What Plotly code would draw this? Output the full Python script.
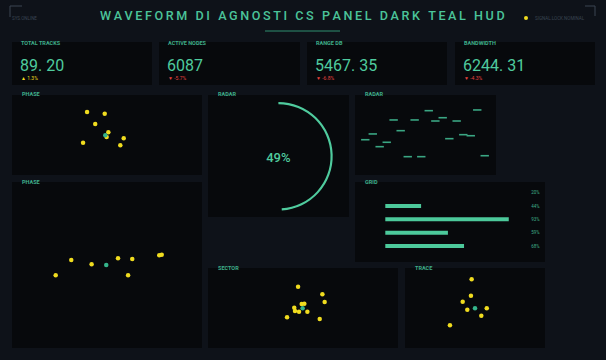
import plotly.graph_objects as go

W, H = 606, 360

# ---------------- data ----------------
TITLE = "WAVEFORM DI AGNOSTI CS PANEL DARK TEAL HUD"
header_left_tag = "SYS.ONLINE"
header_right_tag = "SIGNAL.LOCK.NOMINAL"

kpi_labels = ["TOTAL TRACKS", "ACTIVE NODES", "RANGE DB", "BANDWIDTH"]
kpi_values = ["89. 20", "6087", "5467. 35", "6244. 31"]
kpi_deltas = [1.3, -5.7, -6.8, -4.3]

panel_titles = ["PHASE", "RADAR", "RADAR", "PHASE", "GRID", "SECTOR", "TRACE"]

phase1_x = [39.5, 48.8, 43.8, 50.7, 49.8, 58.8, 37.4, 57.0]
phase1_y = [78.8, 76.6, 63.8, 53.4, 47.5, 45.9, 40.4, 37.1]
phase1_cx, phase1_cy = [49.1], [49.6]

radar_x = [52.3, 86.7, 27.4, 42.3, 57.0, 62.2, 72.1, 32.4, 12.6, 7.3, 22.5, 17.5, 66.9, 76.8, 82.1, 37.4, 47.0, 92.0]
radar_y = [80.4, 81.3, 68.8, 68.8, 67.5, 71.6, 67.5, 55.4, 51.3, 44.1, 40.9, 35.4, 45.4, 50.4, 49.1, 22.9, 22.9, 24.1]

phase2_x = [23.0, 31.2, 41.9, 55.8, 63.3, 61.1, 77.5, 78.8]
phase2_y = [43.8, 53.0, 50.4, 54.0, 53.6, 43.8, 55.8, 56.2]
phase2_cx, phase2_cy = [49.6], [50.0]

sector_x = [47.4, 60.2, 61.4, 49.3, 50.7, 45.4, 45.8, 47.9, 52.3, 41.6, 58.8]
sector_y = [76.6, 67.1, 57.5, 55.0, 55.4, 50.4, 46.3, 45.4, 45.4, 38.4, 36.3]
sector_cx, sector_cy = [49.8], [49.6]

trace_x = [47.6, 47.1, 41.2, 44.5, 58.4, 54.5, 32.1]
trace_y = [85.9, 65.4, 57.9, 47.9, 49.6, 40.4, 28.4]
trace_cx, trace_cy = [50.0], [49.6]

gauge_value = 49
grid_values = [20, 44, 93, 59, 68]

# ---------------- style ----------------
BG = "#0e1219"
PANEL = "#07090c"
TEAL = "#4fcb9e"
TEAL_DIM = "#3aa683"
LABEL = "#3fae8a"
YELLOW = "#f0dc1f"
RED = "#e5423f"
FONT = "Roboto"


def X(px):
    return px / W


def Y(py):
    return 1 - py / H


kpi_rects = [(12, 42, 152, 85), (159, 42, 300, 85), (307, 42, 447, 85), (455, 42, 595, 85)]
panel_rects = [
    (12, 95, 202, 175),    # phase 1
    (208, 95, 349, 217),   # gauge
    (355, 95, 496, 175),   # radar
    (12, 182, 202, 348),   # phase 2
    (355, 182, 545, 262),  # grid
    (208, 268, 398, 348),  # sector
    (405, 268, 545, 348),  # trace
]

fig = go.Figure()
shapes = []
annotations = []

for r in kpi_rects + panel_rects:
    shapes.append(dict(type="rect", xref="paper", yref="paper", x0=X(r[0]), x1=X(r[2]),
                       y0=Y(r[3]), y1=Y(r[1]), fillcolor=PANEL, line=dict(width=0), layer="below"))

# header decorations
dec = "#3a4552"
shapes += [
    dict(type="line", xref="paper", yref="paper", x0=X(10), x1=X(22), y0=Y(6), y1=Y(6), line=dict(color=dec, width=1)),
    dict(type="line", xref="paper", yref="paper", x0=X(10), x1=X(10), y0=Y(6), y1=Y(17), line=dict(color=dec, width=1)),
    dict(type="line", xref="paper", yref="paper", x0=X(585), x1=X(595), y0=Y(6), y1=Y(6), line=dict(color=dec, width=1)),
    dict(type="line", xref="paper", yref="paper", x0=X(595), x1=X(595), y0=Y(6), y1=Y(16), line=dict(color=dec, width=1)),
    dict(type="line", xref="paper", yref="paper", x0=X(265), x1=X(340), y0=Y(31), y1=Y(31), line=dict(color="#2f8f70", width=1)),
    dict(type="circle", xref="paper", yref="paper", x0=X(524), x1=X(528), y0=Y(20), y1=Y(16),
         fillcolor=YELLOW, line=dict(width=0)),
]

annotations.append(dict(text="\u2009".join(TITLE), x=X(302), y=Y(15.5), xref="paper", yref="paper",
                        xanchor="center", yanchor="middle", showarrow=False,
                        font=dict(family=FONT, size=12.6, color="#4bc49a", weight=500)))
annotations.append(dict(text=header_left_tag, x=X(10), y=Y(18), xref="paper", yref="paper",
                        xanchor="left", yanchor="middle", showarrow=False,
                        font=dict(family=FONT, size=4.5, color=dec)))
annotations.append(dict(text=header_right_tag, x=X(533), y=Y(18), xref="paper", yref="paper",
                        xanchor="left", yanchor="middle", showarrow=False,
                        font=dict(family=FONT, size=4.5, color=dec)))

# KPI cards
for r, lab, val, d in zip(kpi_rects, kpi_labels, kpi_values, kpi_deltas):
    annotations.append(dict(text=lab, x=X(r[0] + 8), y=Y(r[1] + 1), xref="paper", yref="paper",
                            xanchor="left", yanchor="middle", showarrow=False, borderpad=0,
                            font=dict(family=FONT, size=5.5, color=LABEL, weight=700)))
    annotations.append(dict(text=val, x=X(r[0] + 6.5), y=Y(65.5), xref="paper", yref="paper",
                            xanchor="left", yanchor="middle", showarrow=False, borderpad=0,
                            font=dict(family=FONT, size=16, color=TEAL)))
    up = d > 0
    annotations.append(dict(text=("▲ " if up else "▼ ") + f"{d}%", x=X(r[0] + 8), y=Y(78.2),
                            xref="paper", yref="paper", xanchor="left", yanchor="middle", showarrow=False,
                            borderpad=0,
                            font=dict(family=FONT, size=5, color=YELLOW if up else RED)))

# panel titles
for r, t in zip(panel_rects, panel_titles):
    annotations.append(dict(text=t, x=X(r[0] + 8), y=Y(r[1] - 0.5), xref="paper", yref="paper",
                            xanchor="left", yanchor="middle", showarrow=False,
                            font=dict(family=FONT, size=5.5, color=LABEL, weight=700)))

layout_axes = {}


def add_axes(idx, rect, xrange=(0, 100), yrange=(0, 100)):
    sfx = "" if idx == 1 else str(idx)
    layout_axes["xaxis" + sfx] = dict(domain=[X(rect[0]), X(rect[2])], range=list(xrange), visible=False,
                                      anchor="y" + sfx, fixedrange=True)
    layout_axes["yaxis" + sfx] = dict(domain=[Y(rect[3]), Y(rect[1])], range=list(yrange), visible=False,
                                      anchor="x" + sfx, fixedrange=True)
    return "x" + sfx, "y" + sfx


def scatter_panel(idx, rect, xs, ys, cx, cy):
    xa, ya = add_axes(idx, rect)
    fig.add_trace(go.Scatter(x=xs, y=ys, mode="markers", xaxis=xa, yaxis=ya, hoverinfo="skip",
                             marker=dict(color=YELLOW, size=4.5, line=dict(width=0))))
    fig.add_trace(go.Scatter(x=cx, y=cy, mode="markers", xaxis=xa, yaxis=ya, hoverinfo="skip",
                             marker=dict(color="#35b58b", size=4.5, line=dict(width=0))))


scatter_panel(1, panel_rects[0], phase1_x, phase1_y, phase1_cx, phase1_cy)

xa, ya = add_axes(2, panel_rects[2])
fig.add_trace(go.Scatter(x=radar_x, y=radar_y, mode="markers", xaxis=xa, yaxis=ya, hoverinfo="skip",
                         marker=dict(symbol="line-ew", size=6, color=TEAL_DIM,
                                     line=dict(color=TEAL_DIM, width=1.6))))

scatter_panel(3, panel_rects[3], phase2_x, phase2_y, phase2_cx, phase2_cy)
scatter_panel(4, panel_rects[5], sector_x, sector_y, sector_cx, sector_cy)
scatter_panel(5, panel_rects[6], trace_x, trace_y, trace_cx, trace_cy)

# grid bars
grid_labels = [f"{v}%" for v in grid_values]
layout_axes["xaxis6"] = dict(domain=[X(385.3), X(521.3)], range=[24, 100], visible=False, anchor="y6",
                             fixedrange=True)
layout_axes["yaxis6"] = dict(domain=[Y(252.7), Y(186)], type="category", autorange="reversed", side="right",
                             anchor="x6", showgrid=False, zeroline=False, showline=False, ticks="",
                             ticklabelstandoff=9, tickfont=dict(family=FONT, size=4.5, color=LABEL),
                             fixedrange=True)
fig.add_trace(go.Bar(x=grid_values, y=grid_labels, orientation="h", xaxis="x6", yaxis="y6", width=0.3,
                     marker=dict(color="#4cc99b", line=dict(width=0)), hoverinfo="skip"))

# gauge
R = 54.3
gcx, gcy = 278.4, 156.3
fig.add_trace(go.Pie(values=[gauge_value, 100 - gauge_value], hole=0.96, sort=False, direction="clockwise",
                     rotation=0, textinfo="none", hoverinfo="skip", showlegend=False,
                     marker=dict(colors=[TEAL, "rgba(0,0,0,0)"], line=dict(width=0)),
                     domain=dict(x=[X(gcx - R), X(gcx + R)], y=[Y(gcy + R), Y(gcy - R)]),
                     title=dict(text=f"{gauge_value}%", position="middle center",
                                font=dict(family=FONT, size=13, color=TEAL, weight=500))))

fig.update_layout(
    width=W, height=H, margin=dict(l=0, r=0, t=0, b=0),
    paper_bgcolor=BG, plot_bgcolor="rgba(0,0,0,0)",
    showlegend=False, shapes=shapes, annotations=annotations,
    font=dict(family=FONT),
    **layout_axes,
)

fig.write_html("out.html", config={"displayModeBar": False, "staticPlot": True})
